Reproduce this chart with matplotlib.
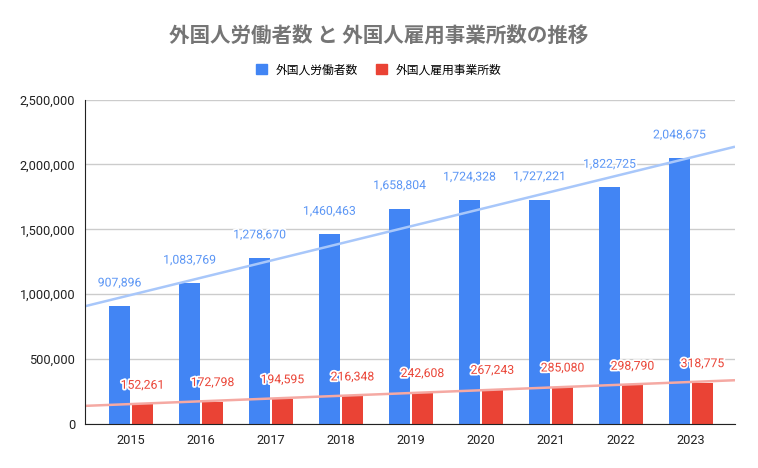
import matplotlib
matplotlib.use("Agg")
import matplotlib.pyplot as plt
import matplotlib.patheffects as pe
from matplotlib.patches import Patch
import numpy as np

years = ["2015", "2016", "2017", "2018", "2019", "2020", "2021", "2022", "2023"]
workers = [907896, 1083769, 1278670, 1460463, 1658804, 1724328, 1727221, 1822725, 2048675]
offices = [152261, 172798, 194595, 216348, 242608, 267243, 285080, 298790, 318775]
series_names = ["外国人労働者数", "外国人雇用事業所数"]
title = "外国人労働者数 と 外国人雇用事業所数の推移"
yticks = [0, 500000, 1000000, 1500000, 2000000, 2500000]

cjk = ["Noto Sans CJK JP", "DejaVu Sans"]
num_font = ["Roboto", "DejaVu Sans"]
plt.rcParams["font.family"] = cjk

BLUE = "#4285F4"
RED = "#EA4335"
BLUE_LBL = "#5A95F5"
RED_LBL = "#EA4335"

fig = plt.figure(figsize=(7.58, 4.68), dpi=100)
W, H = 758, 468
ax = fig.add_axes([85 / W, 1 - 424 / H, (735 - 85) / W, (424 - 99.5) / H])

x = np.arange(len(years))
bw = 0.3
off = 0.164
ax.bar(x - off, workers, bw, color=BLUE, zorder=2)
ax.bar(x + off, offices, bw, color=RED, zorder=2)

xl = (-0.657, 8.63)
ax.set_xlim(*xl)
ax.set_ylim(0, 2500000)

# trend lines (linear fit of each series)
xx = np.array(xl)
for vals, c in ((workers, "#A8C7FA"), (offices, "#F5A9A3")):
    k, b = np.polyfit(x, vals, 1)
    ax.plot(xx, k * xx + b, color=c, lw=1.8, zorder=4, solid_capstyle="butt")

stroke = [pe.withStroke(linewidth=2.5, foreground="white")]
for i in range(len(years)):
    ax.annotate(f"{workers[i]:,}", (x[i] - off, workers[i]), xytext=(0, 12),
                textcoords="offset points", ha="center", va="bottom",
                color=BLUE_LBL, fontsize=8.8, family=num_font, zorder=3,
                path_effects=stroke)
    ax.annotate(f"{offices[i]:,}", (x[i] + off, offices[i]), xytext=(0, 9),
                textcoords="offset points", ha="center", va="bottom",
                color=RED_LBL, fontsize=8.8, family=num_font, zorder=5,
                path_effects=stroke)

ax.set_yticks(yticks)
ax.set_yticklabels([f"{v:,}" for v in yticks], family=num_font, fontsize=9.2, color="#222222")
ax.set_xticks(x)
ax.set_xticklabels(years, family=num_font, fontsize=9.2, color="#222222")
ax.tick_params(length=0, pad=7)
ax.grid(axis="y", color="#CCCCCC", lw=1, zorder=0)
ax.set_axisbelow(True)
for s in ("top", "right"):
    ax.spines[s].set_visible(False)
for s in ("left", "bottom"):
    ax.spines[s].set_color("#222222")
    ax.spines[s].set_zorder(6)

fig.text(0.5, 1 - 36 / H, title, ha="center", va="center", fontsize=14.8,
         fontweight="bold", color="#757575", family=cjk)

handles = [Patch(color=BLUE), Patch(color=RED)]
fig.legend(handles, series_names, loc="center", bbox_to_anchor=(0.5, 1 - 70 / H),
           ncol=2, frameon=False, handlelength=0.93, handleheight=0.93,
           handletextpad=0.76, columnspacing=1.5, prop={"family": cjk, "size": 8.5})

fig.savefig("out.png", dpi=100)
